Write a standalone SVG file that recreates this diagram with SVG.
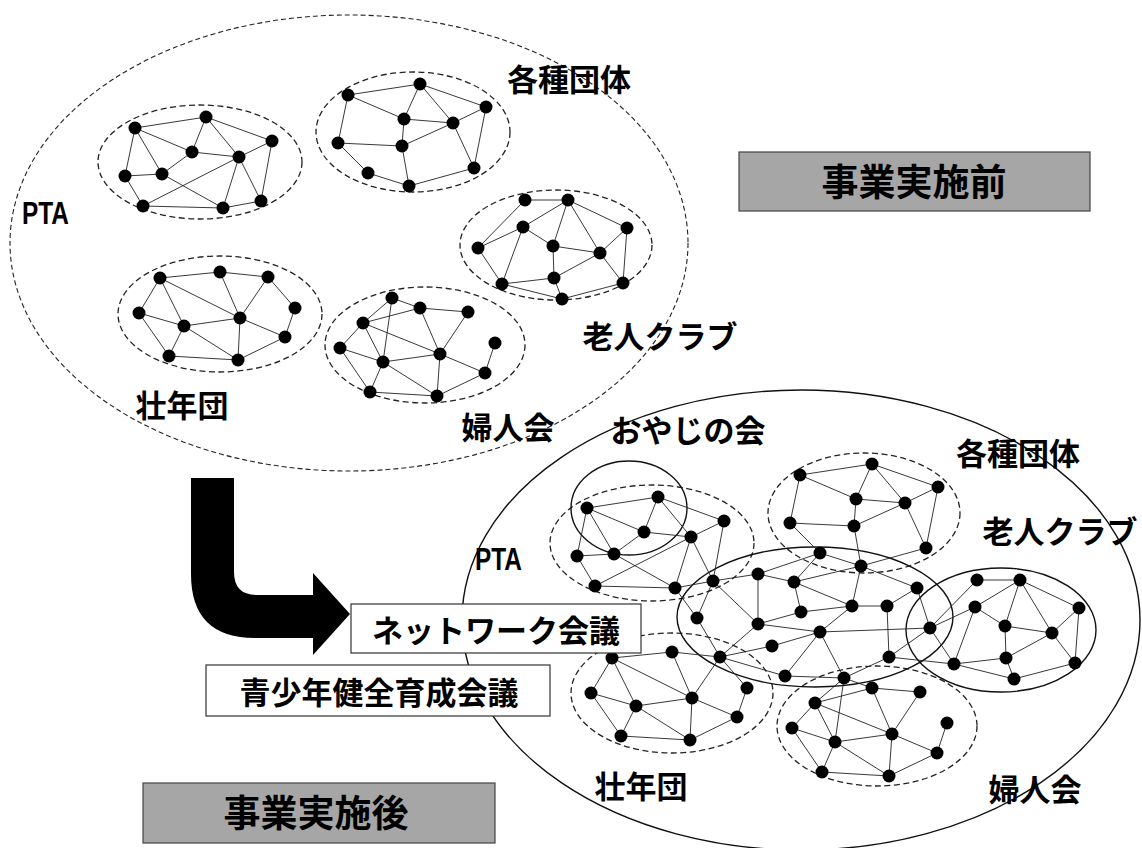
<svg xmlns="http://www.w3.org/2000/svg" width="1142" height="848" viewBox="0 0 1142 848">
<style>
.bg{fill:#ffffff}
.big{fill:none;stroke:#222;stroke-width:1.1;stroke-dasharray:5 3}
.grp{fill:none;stroke:#222;stroke-width:1.3;stroke-dasharray:6 3.5}
.sol{fill:none;stroke:#111;stroke-width:1.4}
.e{fill:none;stroke:#222;stroke-width:0.9}
.n{fill:#000}
.lbl{font-family:"Noto Sans CJK JP","Noto Sans CJK SC",sans-serif;font-weight:700;font-size:31px;fill:#000;text-anchor:middle;dominant-baseline:central}
.lat{font-family:"Liberation Sans","Noto Sans",sans-serif;font-weight:700;font-size:31px;fill:#000;dominant-baseline:central}
.gbox{fill:#a6a6a6;stroke:#444;stroke-width:1.2}
.wbox{fill:#fff;stroke:#333;stroke-width:1.2}
</style>
<defs>
<path id="e-pta" d="M135,128L206,117L272,141 M135,128L192,152 M135,128L162,174 M135,128L125,176 M206,117L192,152 M206,117L239,157 M192,152L162,174 M192,152L239,157 M272,141L239,157 M272,141L261,201 M125,176L162,174 M125,176L143,206 M162,174L223,208 M143,206L239,157 M143,206L223,208 M239,157L223,208 M239,157L261,201 M223,208L261,201"/>
<path id="e-kak" d="M348,95L420,84L486,107 M348,95L404,119 M348,95L338,143 M420,84L404,119 M420,84L453,123 M404,119L453,123 M486,107L453,123 M486,107L474,168 M404,119L402,146 M338,143L402,146 M338,143L368,173 M368,173L409,186 M402,146L409,186 M402,146L453,123 M453,123L474,168 M474,168L409,186"/>
<path id="e-rou" d="M525,200L568,200 M525,200L478,248 M568,200L523,227 M568,200L553,246 M568,200L600,253 M568,200L627,228 M523,227L478,248 M523,227L553,246 M523,227L502,284 M553,246L600,253 M553,246L554,278 M627,228L600,253 M627,228L623,283 M600,253L554,278 M600,253L623,283 M554,278L502,284 M502,284L562,299 M562,299L623,283 M554,278L562,299 M478,248L502,284"/>
<path id="e-sou" d="M160,278L220,272L268,277 M160,278L139,313 M160,278L184,326 M160,278L240,318 M220,272L240,318 M268,277L240,318 M268,277L295,308 M139,313L184,326 M139,313L169,356 M184,326L240,318 M184,326L169,356 M184,326L238,360 M240,318L238,360 M240,318L285,337 M295,308L285,337 M169,356L238,360L285,337"/>
<path id="e-fuj" d="M392,298L420,308L468,312 M392,298L363,323 M392,298L383,362 M420,308L363,323 M420,308L440,354 M468,312L440,354 M363,323L340,348 M363,323L383,362 M363,323L440,354 M340,348L383,362 M340,348L370,392 M383,362L440,354 M383,362L370,392 M383,362L437,396 M440,354L437,396 M440,354L485,373 M495,343L485,373 M437,396L485,373 M370,392L437,396"/>
<g id="d-pta"><circle cx="135" cy="128" r="6.5"/><circle cx="206" cy="117" r="6.5"/><circle cx="272" cy="141" r="6.5"/><circle cx="192" cy="152" r="6.5"/><circle cx="239" cy="157" r="6.5"/><circle cx="125" cy="176" r="6.5"/><circle cx="162" cy="174" r="6.5"/><circle cx="143" cy="206" r="6.5"/><circle cx="223" cy="208" r="6.5"/><circle cx="261" cy="201" r="6.5"/></g>
<g id="d-kak"><circle cx="348" cy="95" r="6.5"/><circle cx="420" cy="84" r="6.5"/><circle cx="486" cy="107" r="6.5"/><circle cx="404" cy="119" r="6.5"/><circle cx="453" cy="123" r="6.5"/><circle cx="338" cy="143" r="6.5"/><circle cx="402" cy="146" r="6.5"/><circle cx="368" cy="173" r="6.5"/><circle cx="474" cy="168" r="6.5"/><circle cx="409" cy="186" r="6.5"/></g>
<g id="d-rou"><circle cx="525" cy="200" r="6.5"/><circle cx="568" cy="200" r="6.5"/><circle cx="523" cy="227" r="6.5"/><circle cx="627" cy="228" r="6.5"/><circle cx="478" cy="248" r="6.5"/><circle cx="553" cy="246" r="6.5"/><circle cx="600" cy="253" r="6.5"/><circle cx="554" cy="278" r="6.5"/><circle cx="502" cy="284" r="6.5"/><circle cx="623" cy="283" r="6.5"/><circle cx="562" cy="299" r="6.5"/></g>
<g id="d-sou"><circle cx="160" cy="278" r="6.5"/><circle cx="220" cy="272" r="6.5"/><circle cx="268" cy="277" r="6.5"/><circle cx="139" cy="313" r="6.5"/><circle cx="295" cy="308" r="6.5"/><circle cx="184" cy="326" r="6.5"/><circle cx="240" cy="318" r="6.5"/><circle cx="285" cy="337" r="6.5"/><circle cx="169" cy="356" r="6.5"/><circle cx="238" cy="360" r="6.5"/></g>
<g id="d-fuj"><circle cx="392" cy="298" r="6.5"/><circle cx="420" cy="308" r="6.5"/><circle cx="468" cy="312" r="6.5"/><circle cx="363" cy="323" r="6.5"/><circle cx="495" cy="343" r="6.5"/><circle cx="340" cy="348" r="6.5"/><circle cx="383" cy="362" r="6.5"/><circle cx="440" cy="354" r="6.5"/><circle cx="485" cy="373" r="6.5"/><circle cx="370" cy="392" r="6.5"/><circle cx="437" cy="396" r="6.5"/></g>
</defs>
<rect class="bg" x="0" y="0" width="1142" height="848"/>

<g id="before">
<ellipse class="big" cx="349" cy="243" rx="339" ry="228"/>
</g>
<g id="before-pta"><ellipse class="grp" cx="200" cy="162" rx="102" ry="57"/></g>
<g id="before-kakushu"><ellipse class="grp" cx="413" cy="132" rx="97" ry="60"/></g>
<g id="before-roujin"><ellipse class="grp" cx="556" cy="245" rx="96" ry="55"/></g>
<g id="before-sounen"><ellipse class="grp" cx="220" cy="314" rx="102" ry="58"/></g>
<g id="before-fujin"><ellipse class="grp" cx="425" cy="345" rx="100" ry="58"/></g>

<g id="after">
<ellipse class="sol" cx="801" cy="620" rx="339" ry="230"/>
</g>
<g id="after-pta"><ellipse class="grp" cx="652" cy="543" rx="102" ry="58"/></g>
<g id="after-kakushu"><ellipse class="grp" cx="864" cy="513" rx="96" ry="60"/></g>
<g id="after-sounen"><ellipse class="grp" cx="672" cy="693" rx="101" ry="60"/></g>
<g id="after-fujin"><ellipse class="grp" cx="877" cy="726" rx="100" ry="60"/></g>
<g id="after-roujin"><ellipse class="sol" cx="1001" cy="630" rx="95" ry="62"/></g>
<g id="after-oyaji"><ellipse class="sol" cx="629" cy="508" rx="58" ry="47"/></g>
<g id="after-network"><ellipse class="sol" cx="815" cy="617" rx="138" ry="70"/></g>

<g id="connectors" class="e">
<use href="#e-pta"/><use href="#e-kak"/><use href="#e-rou"/><use href="#e-sou"/><use href="#e-fuj"/>
<g transform="translate(452,380)"><use href="#e-pta"/><use href="#e-kak"/><use href="#e-rou"/><use href="#e-sou"/><use href="#e-fuj"/></g>
<path d="M713,581L758,574L794,582 M758,574L758,624 M820,553L758,574 M820,553L794,582 M794,582L861,566 M794,582L801,612 M794,582L852,606 M861,566L852,606 M861,566L917,588 M917,588L887,606 M917,588L930,628 M852,606L887,606 M852,606L801,612 M852,606L820,632 M887,606L889,657 M801,612L758,624 M758,624L820,632 M713,581L758,624 M713,581L697,618 M675,588L697,618 M697,618L720,657 M758,624L720,657 M820,632L930,628 M820,632L772,646 M772,646L720,657 M820,632L785,676 M820,632L844,678 M844,678L785,676 M889,657L930,628 M889,657L844,678 M889,657L954,664 M785,676L720,657"/>
</g>

<g id="dots" class="n">
<use href="#d-pta"/><use href="#d-kak"/><use href="#d-rou"/><use href="#d-sou"/><use href="#d-fuj"/>
<g transform="translate(452,380)"><use href="#d-pta"/><use href="#d-kak"/><use href="#d-rou"/><use href="#d-sou"/><use href="#d-fuj"/></g>
<g id="network-dots">
<circle cx="758" cy="574" r="6.5"/><circle cx="794" cy="582" r="6.5"/><circle cx="917" cy="588" r="6.5"/><circle cx="852" cy="606" r="6.5"/><circle cx="887" cy="606" r="6.5"/><circle cx="801" cy="612" r="6.5"/><circle cx="697" cy="618" r="6.5"/><circle cx="758" cy="624" r="6.5"/><circle cx="820" cy="632" r="6.5"/><circle cx="772" cy="646" r="6.5"/><circle cx="889" cy="657" r="6.5"/><circle cx="785" cy="676" r="6.5"/>
</g>
</g>

<g id="labels">
<text class="lbl" x="569" y="77">各種団体</text>
<text class="lat" x="22" y="213" textLength="47" lengthAdjust="spacingAndGlyphs">PTA</text>
<text class="lbl" x="660" y="334">老人クラブ</text>
<text class="lbl" x="182" y="403">壮年団</text>
<text class="lbl" x="508" y="425">婦人会</text>
<text class="lbl" x="688" y="428">おやじの会</text>
<text class="lbl" x="1018" y="451">各種団体</text>
<text class="lbl" x="1060" y="529">老人クラブ</text>
<text class="lat" x="475" y="559" textLength="47" lengthAdjust="spacingAndGlyphs">PTA</text>
<text class="lbl" x="641" y="784">壮年団</text>
<text class="lbl" x="1035" y="787">婦人会</text>
</g>

<g id="arrow">
<path d="M191,478H234V572Q234,595 257,595H313V573L350,614L313,655V638H255Q191,638 191,574Z" fill="#000"/>
</g>

<g id="box-before"><rect class="gbox" x="739" y="152" width="351" height="59"/><text class="lbl" x="914" y="180" style="font-size:37px">事業実施前</text></g>
<g id="box-after"><rect class="gbox" x="143" y="783" width="352" height="60"/><text class="lbl" x="316" y="811" style="font-size:37px">事業実施後</text></g>
<g id="box-network"><rect class="wbox" x="351" y="604" width="290" height="49"/><text class="lbl" x="496" y="628">ネットワーク会議</text></g>
<g id="box-youth"><rect class="wbox" x="206" y="665" width="344" height="51"/><text class="lbl" x="379" y="690">青少年健全育成会議</text></g>
</svg>
